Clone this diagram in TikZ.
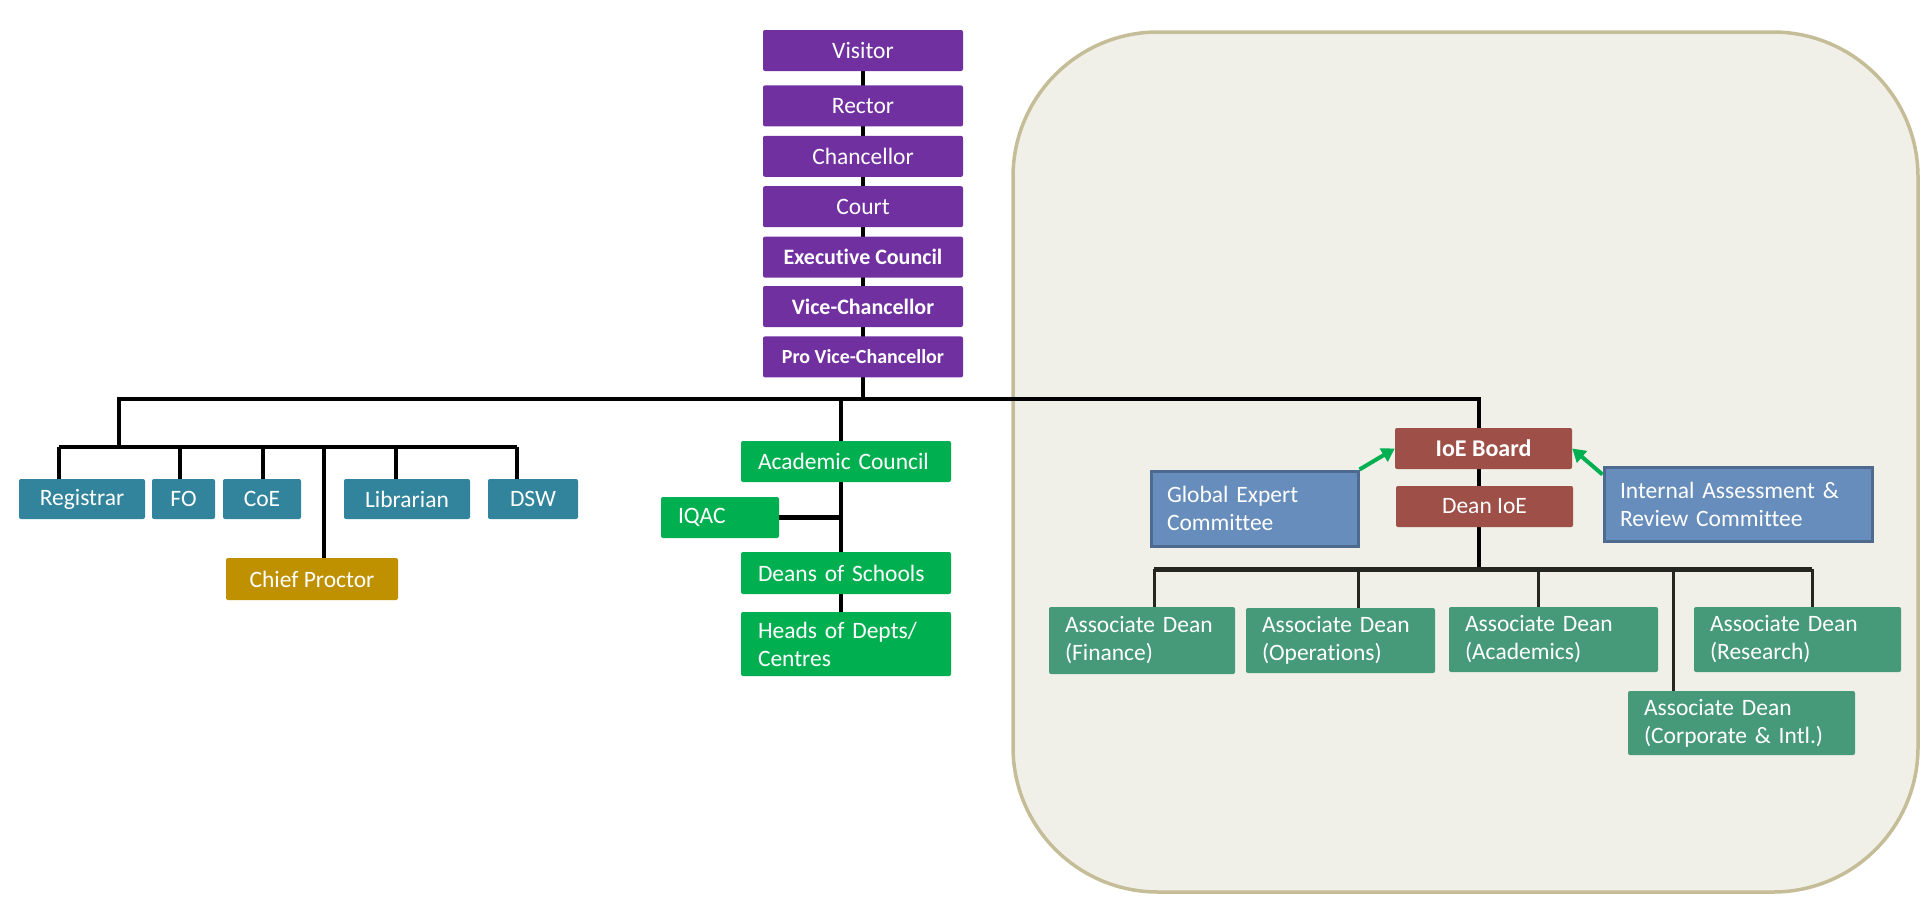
\documentclass[tikz,border=0pt]{standalone}
\usepackage{fontspec}
\setmainfont{Carlito}[Ligatures=NoCommon]
\usetikzlibrary{positioning,arrows.meta,backgrounds}

\definecolor{unipurple}{HTML}{7030A0}
\definecolor{adminteal}{HTML}{31849B}
\definecolor{proctorgold}{HTML}{BF9000}
\definecolor{acadgreen}{HTML}{00B050}
\definecolor{ioered}{HTML}{9E4F48}
\definecolor{cmtblue}{HTML}{668DBB}
\definecolor{cmtedge}{HTML}{4E6B8F}
\definecolor{assocgreen}{HTML}{469A7A}
\definecolor{ioefill}{HTML}{F1F0E8}
\definecolor{ioeedge}{HTML}{C4BD97}
\definecolor{linkdark}{HTML}{262620}

\begin{document}
\begin{tikzpicture}[x=1pt, y=-1pt,
  box/.style = {rectangle, rounded corners=2pt, inner sep=0pt, text=white,
    font=\fontsize{23.5}{28}\selectfont},
  bold/.style = {font=\bfseries\fontsize{#1}{26}\selectfont},
  unibox/.style = {box, fill=unipurple, minimum width=200pt, minimum height=41pt},
  adminbox/.style = {box, fill=adminteal, minimum height=40pt},
  acadbox/.style = {box, fill=acadgreen, inner xsep=17pt, align=left},
  ioebox/.style = {box, fill=ioered, minimum width=177pt, minimum height=41pt},
  cmtbox/.style = {box, rounded corners=0pt, fill=cmtblue, draw=cmtedge,
    line width=3pt, inner xsep=16pt, align=left},
  assocbox/.style = {box, fill=assocgreen, inner xsep=16pt, align=left},
  link/.style = {line width=4.5pt, black},
  sublink/.style = {line width=5pt, linkdark},
  droplink/.style = {line width=3pt, linkdark},
  feed/.style = {line width=4pt, acadgreen, -{Triangle[length=13pt,width=15pt]}},
  ioezone/.style = {fill=ioefill, draw=ioeedge, line width=3.5pt, rounded corners=145pt}]

  \useasboundingbox (0,0) rectangle (1924,919);

  % university bodies
  \node[unibox] (visitor) at (863,50.5) {Visitor};
  \node[unibox, below=14pt of visitor] (rector) {Rector};
  \node[unibox, below=9pt of rector] (chancellor) {Chancellor};
  \node[unibox, below=9pt of chancellor] (court) {Court};
  \node[unibox, below=9pt of court, bold=22] (exec) {Executive Council};
  \node[unibox, below=8pt of exec, bold=22] (vc) {Vice-Chancellor};
  \node[unibox, below=9pt of vc, bold=20] (pvc) {Pro Vice-Chancellor};

  % administration
  \node[adminbox, minimum width=126pt] (registrar) at (82,499) {Registrar};
  \node[adminbox, minimum width=63pt] (fo) at (183.5,499) {FO};
  \node[adminbox, minimum width=78pt] (coe) at (262,499) {CoE};
  \node[adminbox, minimum width=126pt] (librarian) at (407,499) {Librarian};
  \node[adminbox, minimum width=90pt] (dsw) at (533,499) {DSW};
  \node[box, fill=proctorgold, minimum width=172pt, minimum height=42pt]
    (proctor) at (312,579) {Chief Proctor};

  % academic side
  \node[acadbox, text width=176pt, minimum height=41pt] (acad) at (846,461.5) {Academic Council};
  \node[acadbox, text width=84pt, minimum height=41pt] (iqac) at (720,517.5) {IQAC};
  \node[acadbox, text width=176pt, minimum height=42pt] (deans) at (846,573) {Deans of Schools};
  \node[acadbox, text width=176pt, minimum height=64pt] (heads) at (846,644) {Heads of Depts/\\Centres};

  % institution of eminence
  \node[ioebox, bold=24] (ioeboard) at (1483.5,448.5) {IoE Board};
  \node[ioebox] (deanioe) at (1484.5,506.5) {Dean IoE};
  \node[cmtbox, text width=175pt, minimum height=75pt] (global) at (1254.5,508.5) {Global Expert\\Committee};
  \node[cmtbox, text width=236pt, minimum height=74pt] (internal) at (1738,504) {Internal Assessment \&\\Review Committee};

  \node[assocbox, text width=154pt, minimum height=67pt] (fin) at (1142,640.5) {Associate Dean\\(Finance)};
  \node[assocbox, text width=157pt, minimum height=65pt] (ops) at (1340.5,640.5) {Associate Dean\\(Operations)};
  \node[assocbox, text width=177pt, minimum height=65pt] (acd) at (1553.5,639.5) {Associate Dean\\(Academics)};
  \node[assocbox, text width=175pt, minimum height=65pt] (res) at (1797.5,639.5) {Associate Dean\\(Research)};
  \node[assocbox, text width=195pt, minimum height=64pt] (corp) at (1741.5,723) {Associate Dean\\(Corporate \& Intl.)};

  \coordinate (busL) at (119,399);
  \coordinate (busM) at (841,399);
  \coordinate (busR) at (1479,399);
  \coordinate (adminL) at (59,447);
  \coordinate (adminR) at (517,447);
  \coordinate (assocL) at (1154,569);
  \coordinate (assocR) at (1812,569);

  \begin{scope}[on background layer]
    \draw[ioezone] (1013,32) rectangle (1918,892);
    \draw[link] (visitor) -- (visitor |- busL);
    \draw[link] (busL |- adminL) -- (busL) -- (busR) -- (busR |- assocL);
    \draw[link] (adminL) -- (adminR);
    \foreach \n/\x in {registrar/59, fo/180, coe/263, proctor/324, librarian/396, dsw/517}
      \draw[link] (\x,447) -- (\x,0 |- \n.north);
    \draw[link] (busM) -- (busM |- heads.north);
    \draw[link] (iqac.east) -- (iqac.east -| busM);
    \draw[sublink] (assocL) -- (assocR);
    \foreach \n/\x in {fin/1154, ops/1358, acd/1538, corp/1673, res/1812}
      \draw[droplink] (\x,569) -- (\x,0 |- \n.north);
  \end{scope}

  \draw[feed] (global.north east) -- (ioeboard.west);
  \draw[feed] ([yshift=-9pt]internal.north west) -- (ioeboard.east);
\end{tikzpicture}
\end{document}
